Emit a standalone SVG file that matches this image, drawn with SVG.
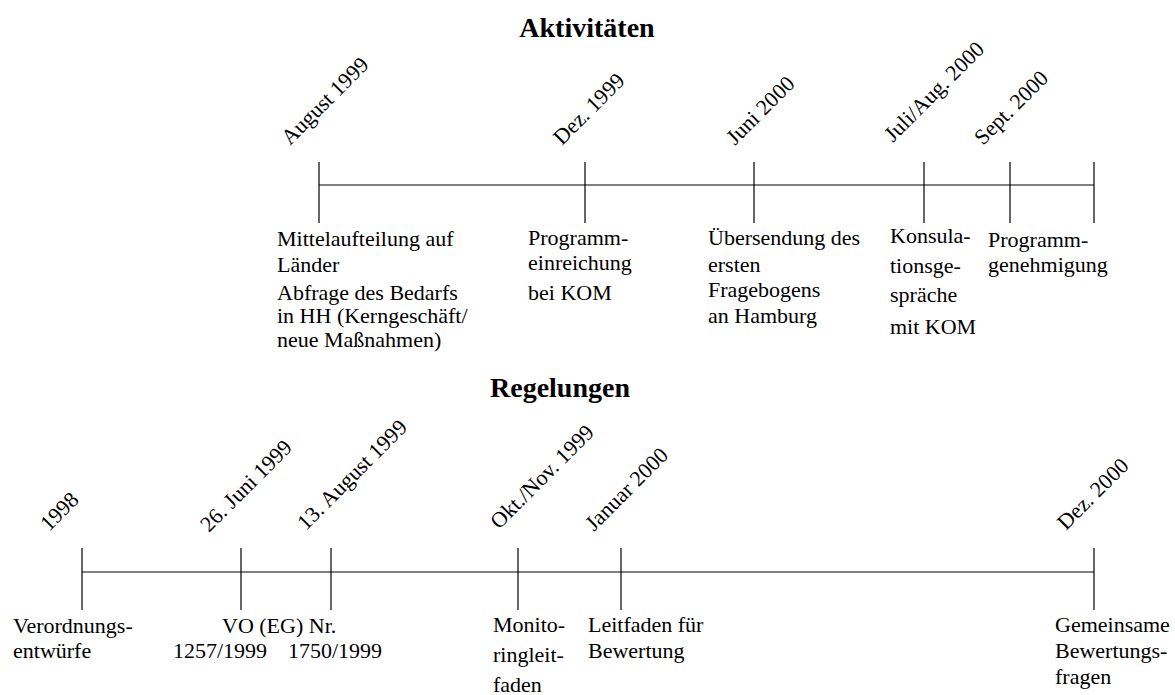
<svg xmlns="http://www.w3.org/2000/svg" width="1175" height="695" viewBox="0 0 1175 695">
<style>
.t{font-family:"Liberation Serif","Times New Roman",serif;font-size:22px;fill:#000}
.h{font-family:"Liberation Serif","Times New Roman",serif;font-size:28px;font-weight:bold;fill:#000;text-anchor:middle}
.ln{stroke:#000;stroke-width:1.2;fill:none}
</style>
<rect width="1175" height="695" fill="#fff"/>
<text class="h" x="587" y="37">Aktivitäten</text>
<text class="h" x="560" y="397">Regelungen</text>
<g id="connectors">
<line class="ln" x1="319" y1="185" x2="1094" y2="185"/>
<line class="ln" x1="82" y1="572" x2="1094" y2="572"/>
</g>
<g id="a1">
<line class="ln" x1="319" y1="162" x2="319" y2="223"/>
<text class="t" transform="translate(290,146) rotate(-45)">August 1999</text>
<text class="t" x="277" y="246">Mittelaufteilung auf</text>
<text class="t" x="277" y="272">Länder</text>
<text class="t" x="277" y="300">Abfrage des Bedarfs</text>
<text class="t" x="277" y="323">in HH (Kerngeschäft/</text>
<text class="t" x="277" y="347">neue Maßnahmen)</text>
</g>
<g id="a2">
<line class="ln" x1="585" y1="162" x2="585" y2="223"/>
<text class="t" transform="translate(562,146) rotate(-45)">Dez. 1999</text>
<text class="t" x="528" y="245">Programm-</text>
<text class="t" x="528" y="270">einreichung</text>
<text class="t" x="528" y="300">bei KOM</text>
</g>
<g id="a3">
<line class="ln" x1="754" y1="162" x2="754" y2="223"/>
<text class="t" transform="translate(735,146) rotate(-45)">Juni 2000</text>
<text class="t" x="708" y="245">Übersendung des</text>
<text class="t" x="708" y="272">ersten</text>
<text class="t" x="708" y="297">Fragebogens</text>
<text class="t" x="708" y="323">an Hamburg</text>
</g>
<g id="a4">
<line class="ln" x1="924" y1="162" x2="924" y2="223"/>
<text class="t" transform="translate(893,143) rotate(-45)">Juli/Aug. 2000</text>
<text class="t" x="890" y="243">Konsula-</text>
<text class="t" x="890" y="273">tionsge-</text>
<text class="t" x="890" y="302">spräche</text>
<text class="t" x="890" y="334">mit KOM</text>
</g>
<g id="a5">
<line class="ln" x1="1010" y1="162" x2="1010" y2="223"/>
<text class="t" transform="translate(983,146) rotate(-45)">Sept. 2000</text>
<text class="t" x="988" y="247">Programm-</text>
<text class="t" x="988" y="272">genehmigung</text>
</g>
<g id="a6">
<line class="ln" x1="1094" y1="162" x2="1094" y2="223"/>
</g>
<g id="r1">
<line class="ln" x1="82" y1="548" x2="82" y2="610"/>
<text class="t" transform="translate(49,532) rotate(-45)">1998</text>
<text class="t" x="13" y="633">Verordnungs-</text>
<text class="t" x="13" y="658">entwürfe</text>
</g>
<g id="r2">
<line class="ln" x1="241" y1="548" x2="241" y2="610"/>
<text class="t" transform="translate(209,533) rotate(-45)">26. Juni 1999</text>
<text class="t" x="222" y="633">VO (EG) Nr.</text>
<text class="t" x="173" y="658">1257/1999</text>
</g>
<g id="r3">
<line class="ln" x1="331" y1="548" x2="331" y2="610"/>
<text class="t" transform="translate(306,531) rotate(-45)">13. August 1999</text>
<text class="t" x="288" y="658">1750/1999</text>
</g>
<g id="r4">
<line class="ln" x1="518" y1="548" x2="518" y2="610"/>
<text class="t" transform="translate(499,530) rotate(-45)">Okt./Nov. 1999</text>
<text class="t" x="493" y="632">Monito-</text>
<text class="t" x="493" y="662">ringleit-</text>
<text class="t" x="493" y="692">faden</text>
</g>
<g id="r5">
<line class="ln" x1="621" y1="548" x2="621" y2="610"/>
<text class="t" transform="translate(594,532) rotate(-45)">Januar 2000</text>
<text class="t" x="588" y="632">Leitfaden für</text>
<text class="t" x="588" y="658">Bewertung</text>
</g>
<g id="r6">
<line class="ln" x1="1094" y1="548" x2="1094" y2="610"/>
<text class="t" transform="translate(1066,531) rotate(-45)">Dez. 2000</text>
<text class="t" x="1055" y="632">Gemeinsame</text>
<text class="t" x="1055" y="658">Bewertungs-</text>
<text class="t" x="1055" y="684">fragen</text>
</g>
</svg>
